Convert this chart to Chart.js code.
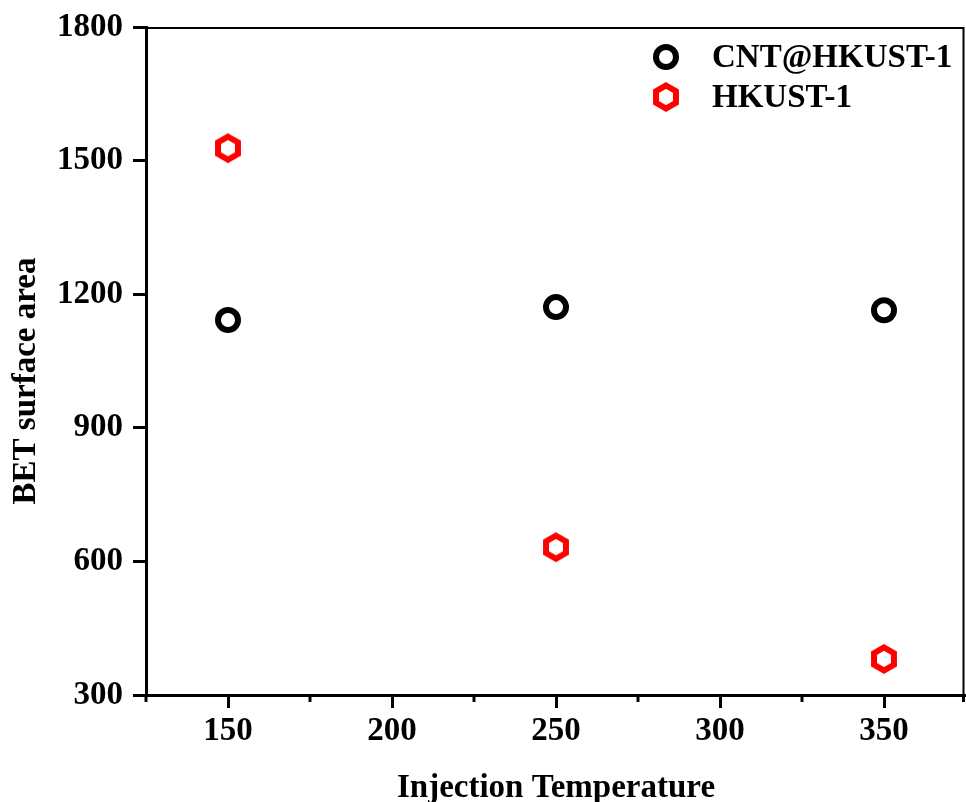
<!DOCTYPE html>
<html>
<head>
    <title>BET surface area</title>
    <script src="https://cdn.jsdelivr.net/npm/chart.js"></script>
    <style>
        html, body { margin: 0; padding: 0; background: #fff; }
        #wrap { width: 966px; height: 802px; }
    </style>
</head>
<body>
<div id="wrap"><canvas id="betChart" width="966" height="802"></canvas></div>
<script>
// data
const temps = [150, 250, 350];
const cntHkust = [1142, 1171, 1164];
const hkust = [1528, 632, 381];
const seriesNames = ['CNT@HKUST-1', 'HKUST-1'];
const xMajorTicks = [150, 200, 250, 300, 350];
const xMinorTicks = [125, 175, 225, 275, 325, 375];
const yTitle = 'BET surface area';

const FONT = '"Liberation Serif", "Times New Roman", serif';

// hexagon marker (pointy top), chart.js has no built-in one
function makeHexagon(color) {
    const c = document.createElement('canvas');
    c.width = 34; c.height = 34;
    const g = c.getContext('2d');
    g.strokeStyle = color;
    g.lineWidth = 6;
    g.lineJoin = 'miter';
    g.beginPath();
    for (let i = 0; i < 6; i++) {
        const a = -Math.PI / 2 + i * Math.PI / 3;
        const px = 17 + 11.5 * Math.cos(a), py = 17 + 11.5 * Math.sin(a);
        if (i === 0) g.moveTo(px, py); else g.lineTo(px, py);
    }
    g.closePath();
    g.stroke();
    return c;
}
const hexRed = makeHexagon('#ff0000');

const framePlugin = {
    id: 'frame',
    afterDraw(chart) {
        const ctx = chart.ctx;
        const a = chart.chartArea;
        const xs = chart.scales.x;
        const ys = chart.scales.y;
        ctx.save();
        ctx.strokeStyle = '#000';
        // top and right lines
        ctx.lineWidth = 2;
        ctx.beginPath();
        ctx.moveTo(a.left, a.top + 1);
        ctx.lineTo(a.right - 2.5, a.top + 1);
        ctx.lineTo(a.right - 2.5, a.bottom);
        ctx.stroke();
        // minor ticks on x
        ctx.lineWidth = 3;
        xMinorTicks.forEach(v => {
            const px = Math.min(xs.getPixelForValue(v), a.right - 2.5);
            ctx.beginPath();
            ctx.moveTo(px, a.bottom);
            ctx.lineTo(px, a.bottom + 7);
            ctx.stroke();
        });
        // y title, sits a bit below the axis middle in the original
        ctx.save();
        ctx.translate(26, ys.getPixelForValue(1005));
        ctx.rotate(-Math.PI / 2);
        ctx.fillStyle = '#000';
        ctx.font = 'bold 33px ' + FONT;
        ctx.textAlign = 'center';
        ctx.textBaseline = 'middle';
        ctx.fillText(yTitle, 0, 0);
        ctx.restore();
        // legend
        const ds = chart.data.datasets;
        const rows = [57, 97];
        ds.forEach((d, i) => {
            const y = rows[i];
            if (d.pointStyle === 'circle') {
                ctx.lineWidth = 6;
                ctx.strokeStyle = d.borderColor;
                ctx.beginPath();
                ctx.arc(666, y, 10, 0, Math.PI * 2);
                ctx.stroke();
            } else {
                ctx.drawImage(d.pointStyle, 666 - 17, y - 17);
            }
            ctx.fillStyle = '#000';
            ctx.font = 'bold 33px ' + FONT;
            ctx.textBaseline = 'middle';
            ctx.textAlign = 'left';
            ctx.fillText(d.label, 712, y + 1);
        });
        ctx.restore();
    }
};

const ctx = document.getElementById('betChart').getContext('2d');
new Chart(ctx, {
    type: 'scatter',
    data: {
        datasets: [{
            label: seriesNames[0],
            data: temps.map((t, i) => ({ x: t, y: cntHkust[i] })),
            pointStyle: 'circle',
            pointRadius: 10,
            pointBorderWidth: 6,
            borderColor: '#000000',
            backgroundColor: 'rgba(0,0,0,0)'
        }, {
            label: seriesNames[1],
            data: temps.map((t, i) => ({ x: t, y: hkust[i] })),
            pointStyle: hexRed,
            pointRadius: 12,
            borderColor: '#ff0000',
            backgroundColor: 'rgba(0,0,0,0)'
        }]
    },
    options: {
        responsive: false,
        animation: false,
        layout: { autoPadding: false, padding: { top: 27, right: 0, left: 0, bottom: 0 } },
        plugins: {
            legend: { display: false },
            tooltip: { enabled: false }
        },
        scales: {
            x: {
                type: 'linear',
                min: 125,
                max: 375,
                afterBuildTicks: s => { s.ticks = xMajorTicks.map(v => ({ value: v })); },
                afterFit: s => { s.height = 107; s.paddingLeft = 0; s.paddingRight = 0; },
                ticks: {
                    color: '#000',
                    padding: 4,
                    font: { family: FONT, size: 33, weight: 'bold' }
                },
                grid: {
                    drawOnChartArea: false,
                    drawTicks: true,
                    tickLength: 13,
                    tickWidth: 3,
                    tickColor: '#000'
                },
                border: { display: true, color: '#000', width: 3 },
                title: {
                    display: true,
                    text: 'Injection Temperature',
                    color: '#000',
                    padding: { top: 0, bottom: -6 },
                    font: { family: FONT, size: 33, weight: 'bold' }
                }
            },
            y: {
                min: 300,
                max: 1800,
                ticks: {
                    stepSize: 300,
                    color: '#000',
                    padding: 10,
                    callback: v => String(v),
                    font: { family: FONT, size: 33, weight: 'bold' }
                },
                afterFit: s => { s.width = 146; s.paddingTop = 0; s.paddingBottom = 0; },
                grid: {
                    drawOnChartArea: false,
                    drawTicks: true,
                    tickLength: 13,
                    tickWidth: 3,
                    tickColor: '#000'
                },
                border: { display: true, color: '#000', width: 3 }
            }
        }
    },
    plugins: [framePlugin]
});
</script>
</body>
</html>
